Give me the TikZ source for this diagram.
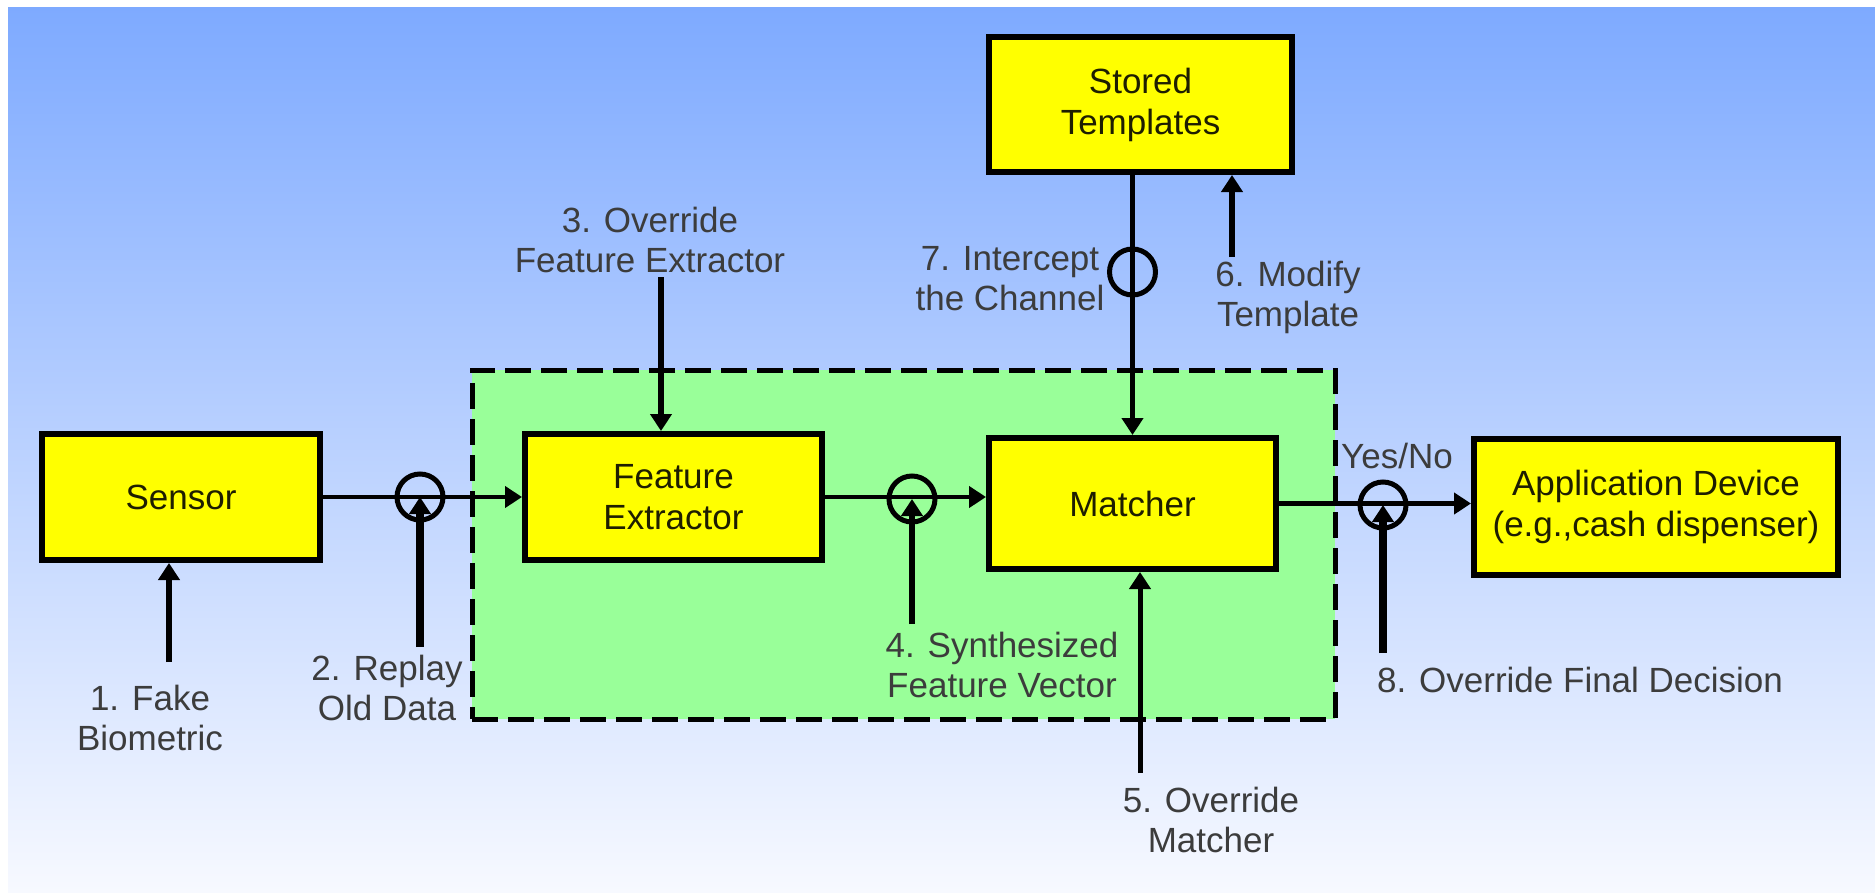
\documentclass[tikz,border=0pt]{standalone}
\usepackage{fontspec}
\setmainfont{Liberation Sans}
\usetikzlibrary{arrows.meta}
\definecolor{bgtop}{RGB}{126,170,255}
\definecolor{bgbot}{RGB}{247,249,255}
\definecolor{grn}{RGB}{153,255,153}
\definecolor{yel}{RGB}{255,255,0}
\definecolor{lbl}{RGB}{60,60,60}
\definecolor{boxtxt}{RGB}{30,30,0}
\begin{document}
\begin{tikzpicture}[x=1pt,y=-1pt,
  box/.style={draw=black, line width=6pt, fill=yel, inner sep=0pt, align=center,
    font=\fontsize{35}{41}\selectfont, text=boxtxt},
  lab/.style={align=center, font=\fontsize{35}{40}\selectfont, text=lbl, inner sep=0pt},
  conn/.style={line width=4.5pt, -{Triangle[length=17pt,width=21pt]}},
  atk/.style={line width=6pt, -{Triangle[length=17pt,width=21pt]}},
  tap/.style={circle, draw=black, line width=5pt, minimum size=46pt, inner sep=0pt}]
\useasboundingbox (0,0) rectangle (1875,892);
\fill[white] (0,0) rectangle (1875,892);
\shade[top color=bgtop, bottom color=bgbot] (8,7) rectangle (1875,892);

% group
\node[draw=black, fill=grn, line width=5pt, dash pattern=on 26pt off 10pt,
      minimum width=863pt, minimum height=349pt, inner sep=0pt] (grp) at (903.5,544.5) {};

% boxes
\node[box, minimum width=278pt, minimum height=126pt] (sensor) at (181,497) {Sensor};
\node[box, minimum width=297pt, minimum height=126pt] (fe) at (673.5,497) {Feature\\Extractor};
\node[box, minimum width=287pt, minimum height=131pt] (m) at (1132.5,503.5) {Matcher};
\node[box, minimum width=303pt, minimum height=135pt] (st) at (1140.5,104.5) {Stored\\Templates};
\node[box, minimum width=364pt, minimum height=136pt] (ad) at (1656,507) {Application Device\\(e.g.,cash dispenser)};

% tap circles
\node[tap] (c2) at (420,497) {};
\node[tap] (c4) at (912,499) {};
\node[tap] (c7) at (1132.5,272) {};
\node[tap] (c8) at (1383,505) {};

% main flow
\draw[conn] (sensor.east) -- (sensor.east -| fe.west);
\draw[conn] (fe.east) -- (fe.east -| m.west);
\draw[conn] (m.east) -- (m.east -| ad.west);
\draw[conn, line width=5pt] (st.south -| m.north) -- (m.north);

% attack points
\coordinate (a1) at (169,662);
\coordinate (a2) at (420,647);
\coordinate (a3) at (661,277);
\coordinate (a4) at (912,624);
\coordinate (a5) at (1140,773);
\coordinate (a6) at (1232,257);
\coordinate (a8) at (1383,653);
\draw[atk] (a1) -- (a1 |- sensor.south);
\draw[atk, line width=8pt] (a2) -- (c2.center);
\draw[atk] (a3) -- (a3 |- fe.north);
\draw[atk] (a4) -- (c4.center);
\draw[atk, line width=5pt] (a5) -- (a5 |- m.south);
\draw[atk] (a6) -- (a6 |- st.south);
\draw[atk, line width=8pt] (a8) -- (c8.center);

% labels
\node[lab] (l1) at (150,718) {1. Fake\\Biometric};
\node[lab] (l2) at (387,688) {2. Replay\\Old Data};
\node[lab] (l3) at (650,240) {3. Override\\Feature Extractor};
\node[lab] (l4) at (1002,665) {4. Synthesized\\Feature Vector};
\node[lab] (l5) at (1211,820) {5. Override\\Matcher};
\node[lab] (l6) at (1288,297) {6. Modify\\Template};
\node[lab] (l7) at (1010,279) {7. Intercept\\the Channel};
\node[lab] (l8) at (1580,680) {8. Override Final Decision};
\node[lab] (yn) at (1397,456) {Yes/No};
\end{tikzpicture}
\end{document}
